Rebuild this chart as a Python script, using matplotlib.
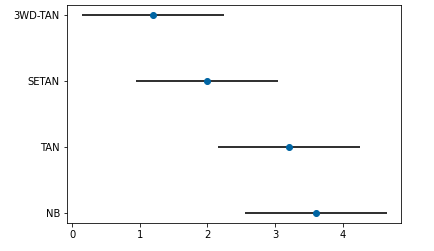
import matplotlib
matplotlib.use("Agg")
import matplotlib.pyplot as plt

# 数据
models = ["NB", "TAN", "SETAN", "3WD-TAN"]
means = [3.6, 3.2, 2.0, 1.2]
errors = [1.05, 1.05, 1.05, 1.05]

fig, ax = plt.subplots(figsize=(434 / 72, 251 / 72), dpi=72)

ypos = range(len(models))

ax.errorbar(
    means,
    ypos,
    xerr=errors,
    fmt="none",
    ecolor="#333333",
    elinewidth=2,
    capsize=0
)

ax.plot(
    means,
    ypos,
    "o",
    color="#0065a3",
    markersize=6
)

ax.set_yticks(list(ypos))
ax.set_yticklabels(models)
ax.set_xticks([0, 1, 2, 3, 4])
ax.set_xlim(-0.074, 4.86)
ax.set_ylim(-0.15, 3.15)

fig.subplots_adjust(left=67 / 434, right=401 / 434, top=1 - 5 / 251, bottom=1 - 223 / 251)

plt.savefig("out.png", dpi=72)
